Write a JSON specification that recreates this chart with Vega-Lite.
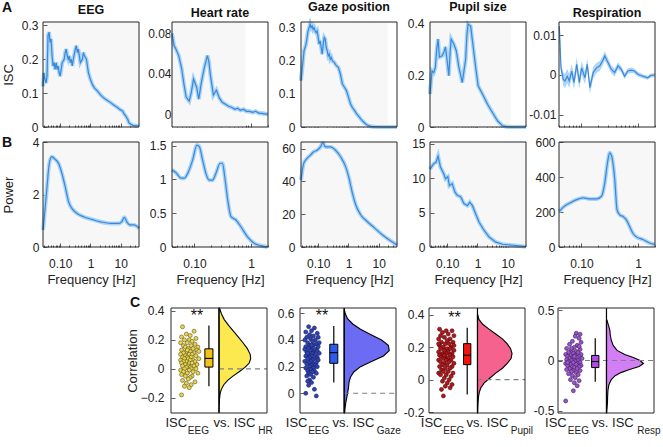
{
"$schema": "https://vega.github.io/schema/vega-lite/v6.json",
"padding": {"left": 2, "top": 1, "right": 2, "bottom": 2},
"background": "white",
"config": {
  "font": "Liberation Sans",
  "view": {"stroke": null},
  "axis": {"domain": false, "grid": false, "labelFont": "Liberation Sans", "labelFontSize": 12, "labelColor": "#222222", "tickColor": "#333333", "tickWidth": 0.8, "titleFont": "Liberation Sans", "titleFontSize": 13, "titleFontWeight": "normal", "titleColor": "#222222", "labelOverlap": false, "labelBound": false, "labelFlush": false},
  "title": {"font": "Liberation Sans", "fontSize": 12.5, "fontWeight": "bold", "color": "#111111", "offset": 2.5, "frame": "group"}
},
"datasets": {
  "eegA": [{"f":0.027,"v":0.12},{"f":0.0292,"v":0.16},{"f":0.0315,"v":0.14},{"f":0.034,"v":0.13},{"f":0.0367,"v":0.15},{"f":0.0396,"v":0.27},{"f":0.0428,"v":0.28},{"f":0.0462,"v":0.25},{"f":0.0499,"v":0.26},{"f":0.0539,"v":0.21},{"f":0.0582,"v":0.18},{"f":0.0628,"v":0.19},{"f":0.0678,"v":0.17},{"f":0.0732,"v":0.19},{"f":0.0791,"v":0.17},{"f":0.0854,"v":0.18},{"f":0.0922,"v":0.16},{"f":0.0996,"v":0.15},{"f":0.1075,"v":0.17},{"f":0.1161,"v":0.19},{"f":0.1354,"v":0.2},{"f":0.1462,"v":0.22},{"f":0.1579,"v":0.23},{"f":0.1705,"v":0.21},{"f":0.1841,"v":0.2},{"f":0.1988,"v":0.21},{"f":0.2147,"v":0.19},{"f":0.2318,"v":0.2},{"f":0.2503,"v":0.18},{"f":0.2703,"v":0.2},{"f":0.3152,"v":0.23},{"f":0.3403,"v":0.24},{"f":0.3675,"v":0.22},{"f":0.3968,"v":0.23},{"f":0.4285,"v":0.21},{"f":0.4627,"v":0.19},{"f":0.5395,"v":0.2},{"f":0.5826,"v":0.22},{"f":0.6291,"v":0.21},{"f":0.7335,"v":0.2},{"f":0.792,"v":0.18},{"f":0.8553,"v":0.16},{"f":0.9973,"v":0.14},{"f":1.163,"v":0.125},{"f":1.356,"v":0.115},{"f":1.707,"v":0.106},{"f":2.149,"v":0.095},{"f":2.706,"v":0.086},{"f":3.407,"v":0.08},{"f":4.632,"v":0.072},{"f":5.832,"v":0.065},{"f":7.929,"v":0.057},{"f":9.245,"v":0.052},{"f":11.64,"v":0.047},{"f":12.57,"v":0.04},{"f":14.66,"v":0.032},{"f":17.09,"v":0.022},{"f":18.45,"v":0.013},{"f":21.52,"v":0.008},{"f":25.09,"v":0.005},{"f":31.59,"v":0.004},{"f":39.77,"v":0.003}],
  "hrA": [{"f":0.04,"v":0.08},{"f":0.0435,"v":0.068},{"f":0.0464,"v":0.065},{"f":0.0526,"v":0.058},{"f":0.0594,"v":0.045},{"f":0.065,"v":0.03},{"f":0.0712,"v":0.017},{"f":0.0805,"v":0.013},{"f":0.088,"v":0.022},{"f":0.0963,"v":0.035},{"f":0.1088,"v":0.027},{"f":0.119,"v":0.015},{"f":0.131,"v":0.03},{"f":0.149,"v":0.046},{"f":0.169,"v":0.058},{"f":0.18,"v":0.052},{"f":0.19,"v":0.04},{"f":0.216,"v":0.019},{"f":0.244,"v":0.024},{"f":0.276,"v":0.016},{"f":0.31,"v":0.012},{"f":0.353,"v":0.01},{"f":0.4,"v":0.008},{"f":0.452,"v":0.007},{"f":0.52,"v":0.005},{"f":0.578,"v":0.006},{"f":0.65,"v":0.004},{"f":0.738,"v":0.005},{"f":0.83,"v":0.003},{"f":0.944,"v":0.003},{"f":1.07,"v":0.002},{"f":1.21,"v":0.003},{"f":1.4,"v":0.001},{"f":1.55,"v":0.001},{"f":1.98,"v":0.0}],
  "gazeA": [{"f":0.027,"v":0.14},{"f":0.0292,"v":0.17},{"f":0.0315,"v":0.2},{"f":0.034,"v":0.23},{"f":0.0367,"v":0.24},{"f":0.0396,"v":0.25},{"f":0.0428,"v":0.27},{"f":0.0462,"v":0.29},{"f":0.0499,"v":0.3},{"f":0.0539,"v":0.31},{"f":0.0582,"v":0.3},{"f":0.0628,"v":0.305},{"f":0.0678,"v":0.295},{"f":0.0732,"v":0.3},{"f":0.0791,"v":0.29},{"f":0.0854,"v":0.285},{"f":0.0922,"v":0.29},{"f":0.0996,"v":0.27},{"f":0.1075,"v":0.25},{"f":0.1161,"v":0.26},{"f":0.1254,"v":0.24},{"f":0.1354,"v":0.22},{"f":0.1462,"v":0.25},{"f":0.1579,"v":0.27},{"f":0.1705,"v":0.265},{"f":0.1841,"v":0.24},{"f":0.1988,"v":0.23},{"f":0.2147,"v":0.215},{"f":0.2318,"v":0.22},{"f":0.2503,"v":0.205},{"f":0.2703,"v":0.21},{"f":0.2919,"v":0.2},{"f":0.3403,"v":0.195},{"f":0.3968,"v":0.185},{"f":0.4627,"v":0.18},{"f":0.5395,"v":0.16},{"f":0.6291,"v":0.13},{"f":0.7335,"v":0.12},{"f":0.8553,"v":0.11},{"f":0.9973,"v":0.09},{"f":1.163,"v":0.07},{"f":1.356,"v":0.058},{"f":1.581,"v":0.05},{"f":1.843,"v":0.04},{"f":2.149,"v":0.033},{"f":2.506,"v":0.025},{"f":2.922,"v":0.018},{"f":3.407,"v":0.012},{"f":3.973,"v":0.007},{"f":4.632,"v":0.004},{"f":5.401,"v":0.002},{"f":7.343,"v":0.001},{"f":13.57,"v":0.0},{"f":39.77,"v":0.0}],
  "pupilA": [{"f":0.027,"v":0.127},{"f":0.0315,"v":0.217},{"f":0.0358,"v":0.21},{"f":0.0405,"v":0.23},{"f":0.045,"v":0.3},{"f":0.0499,"v":0.34},{"f":0.0551,"v":0.27},{"f":0.0678,"v":0.275},{"f":0.078,"v":0.29},{"f":0.0875,"v":0.31},{"f":0.0996,"v":0.256},{"f":0.113,"v":0.198},{"f":0.125,"v":0.29},{"f":0.135,"v":0.34},{"f":0.166,"v":0.32},{"f":0.199,"v":0.295},{"f":0.244,"v":0.23},{"f":0.28,"v":0.2},{"f":0.315,"v":0.172},{"f":0.36,"v":0.22},{"f":0.406,"v":0.262},{"f":0.45,"v":0.36},{"f":0.487,"v":0.398},{"f":0.594,"v":0.39},{"f":0.713,"v":0.314},{"f":0.873,"v":0.23},{"f":1.05,"v":0.159},{"f":1.47,"v":0.127},{"f":2.15,"v":0.088},{"f":3.15,"v":0.055},{"f":4.63,"v":0.023},{"f":6.8,"v":0.004},{"f":10,"v":0.001},{"f":14.7,"v":0.0},{"f":39.8,"v":0.0}],
  "respA": [{"f":0.0405,"v":0.0123,"lo":0.0113,"hi":0.0133},{"f":0.0434,"v":0.0018,"lo":0.0005,"hi":0.0031},{"f":0.0476,"v":-0.0011,"lo":-0.0028,"hi":0.0006},{"f":0.051,"v":-0.0015,"lo":-0.0033,"hi":0.0003},{"f":0.056,"v":-0.0003,"lo":-0.0021,"hi":0.0015},{"f":0.0607,"v":-0.0015,"lo":-0.0033,"hi":0.0003},{"f":0.0672,"v":0.001,"lo":-0.0008,"hi":0.0028},{"f":0.0737,"v":-0.0019,"lo":-0.0037,"hi":-0.0001},{"f":0.0823,"v":0.0027,"lo":0.0009,"hi":0.0045},{"f":0.0915,"v":-0.0019,"lo":-0.0036,"hi":-0.0002},{"f":0.1005,"v":0.0018,"lo":0.0001,"hi":0.0035},{"f":0.1154,"v":-0.0007,"lo":-0.0023,"hi":0.0009},{"f":0.1265,"v":0.0027,"lo":0.0011,"hi":0.0043},{"f":0.1411,"v":-0.0032,"lo":-0.0047,"hi":-0.0017},{"f":0.1612,"v":0.0006,"lo":-0.0008,"hi":0.002},{"f":0.1849,"v":0.0018,"lo":0.0005,"hi":0.0031},{"f":0.2113,"v":0.0023,"lo":0.0011,"hi":0.0035},{"f":0.2357,"v":0.0035,"lo":0.0023,"hi":0.0047},{"f":0.2587,"v":0.0048,"lo":0.0036,"hi":0.006},{"f":0.2958,"v":0.0031,"lo":0.002,"hi":0.0042},{"f":0.3389,"v":0.0014,"lo":0.0004,"hi":0.0024},{"f":0.3874,"v":0.0006,"lo":-0.0004,"hi":0.0016},{"f":0.4427,"v":0.0023,"lo":0.0014,"hi":0.0032},{"f":0.507,"v":0.0014,"lo":0.0006,"hi":0.0022},{"f":0.5797,"v":-0.0003,"lo":-0.0011,"hi":0.0005},{"f":0.662,"v":0.001,"lo":0.0003,"hi":0.0017},{"f":0.7572,"v":0.0012,"lo":0.0005,"hi":0.0019},{"f":0.8659,"v":0.001,"lo":0.0004,"hi":0.0016},{"f":0.9896,"v":0.0002,"lo":-0.0004,"hi":0.0008},{"f":1.213,"v":-0.0003,"lo":-0.0008,"hi":0.0002},{"f":1.484,"v":-0.0007,"lo":-0.0012,"hi":-0.0002},{"f":1.698,"v":-0.0001,"lo":-0.0006,"hi":0.0004},{"f":1.98,"v":0.0,"lo":-0.0005,"hi":0.0005}],
  "eegB": [{"f":0.0272,"v":0.65},{"f":0.0359,"v":2.17},{"f":0.0436,"v":3.19},{"f":0.0527,"v":3.44},{"f":0.0678,"v":3.34},{"f":0.0877,"v":3.19},{"f":0.1132,"v":2.81},{"f":0.146,"v":2.3},{"f":0.188,"v":1.73},{"f":0.243,"v":1.47},{"f":0.36,"v":1.28},{"f":0.594,"v":1.15},{"f":1.13,"v":1.05},{"f":2.15,"v":0.96},{"f":4.63,"v":0.9},{"f":8.87,"v":0.9},{"f":10.7,"v":0.96},{"f":13.1,"v":1.13},{"f":15.8,"v":0.96},{"f":20.4,"v":0.84},{"f":27.7,"v":0.84},{"f":40,"v":0.71}],
  "hrB": [{"f":0.04,"v":1.14},{"f":0.0471,"v":1.1},{"f":0.0579,"v":1.02},{"f":0.0662,"v":1.02},{"f":0.0757,"v":1.09},{"f":0.0929,"v":1.29},{"f":0.1105,"v":1.51},{"f":0.1213,"v":1.49},{"f":0.1392,"v":1.29},{"f":0.159,"v":1.09},{"f":0.182,"v":0.99},{"f":0.2086,"v":0.99},{"f":0.2388,"v":1.09},{"f":0.2842,"v":1.24},{"f":0.3129,"v":1.24},{"f":0.3433,"v":1.04},{"f":0.3869,"v":0.7},{"f":0.4424,"v":0.45},{"f":0.5414,"v":0.4},{"f":0.6626,"v":0.3},{"f":0.8678,"v":0.15},{"f":1.1353,"v":0.055},{"f":1.4869,"v":0.02},{"f":1.96,"v":0.0}],
  "gazeB": [{"f":0.027,"v":40.8},{"f":0.0332,"v":51},{"f":0.0428,"v":54},{"f":0.0551,"v":56},{"f":0.0713,"v":58},{"f":0.0922,"v":59},{"f":0.1187,"v":61},{"f":0.1423,"v":63.6},{"f":0.1738,"v":61},{"f":0.2547,"v":61},{"f":0.3736,"v":59},{"f":0.548,"v":55},{"f":0.804,"v":49},{"f":1.04,"v":42},{"f":1.35,"v":32.7},{"f":1.74,"v":25.6},{"f":2.55,"v":19.5},{"f":4.23,"v":15.4},{"f":7.05,"v":11.8},{"f":13.4,"v":7.3},{"f":22.4,"v":4.3},{"f":40,"v":1.2}],
  "pupilB": [{"f":0.027,"v":11.3},{"f":0.0358,"v":12.1},{"f":0.0428,"v":12.3},{"f":0.0499,"v":13.2},{"f":0.0597,"v":11.6},{"f":0.0774,"v":10.6},{"f":0.0875,"v":9.9},{"f":0.105,"v":10.2},{"f":0.118,"v":8.9},{"f":0.146,"v":9.2},{"f":0.179,"v":8.0},{"f":0.214,"v":7.5},{"f":0.277,"v":7.3},{"f":0.358,"v":6.3},{"f":0.463,"v":6.0},{"f":0.554,"v":6.5},{"f":0.68,"v":6.0},{"f":0.873,"v":4.8},{"f":1.13,"v":3.6},{"f":1.66,"v":2.4},{"f":2.43,"v":1.45},{"f":4.03,"v":0.7},{"f":6.8,"v":0.4},{"f":14.7,"v":0.25},{"f":40,"v":0.05}],
  "respB": [{"f":0.0405,"v":203},{"f":0.0476,"v":228},{"f":0.0625,"v":252},{"f":0.0823,"v":271},{"f":0.1075,"v":281},{"f":0.1411,"v":275},{"f":0.1849,"v":275},{"f":0.2262,"v":290},{"f":0.2587,"v":368},{"f":0.2891,"v":484},{"f":0.3161,"v":538},{"f":0.3457,"v":513},{"f":0.3874,"v":387},{"f":0.4258,"v":213},{"f":0.4753,"v":184},{"f":0.5439,"v":174},{"f":0.6232,"v":155},{"f":0.7132,"v":116},{"f":0.8165,"v":77},{"f":0.935,"v":58},{"f":1.2244,"v":43},{"f":1.6,"v":23},{"f":1.98,"v":15}],
  "sc1": [{"x":1.2,"y":0.29},{"x":2.4,"y":0.26},{"x":1.6,"y":0.24},{"x":2.0,"y":0.23},{"x":1.1,"y":0.22},{"x":2.6,"y":0.21},{"x":1.4,"y":0.2},{"x":1.9,"y":0.2},{"x":2.2,"y":0.19},{"x":1.0,"y":0.18},{"x":1.7,"y":0.18},{"x":2.5,"y":0.17},{"x":1.3,"y":0.16},{"x":2.1,"y":0.16},{"x":2.8,"y":0.15},{"x":1.5,"y":0.15},{"x":1.8,"y":0.14},{"x":2.3,"y":0.14},{"x":1.1,"y":0.13},{"x":2.7,"y":0.13},{"x":1.6,"y":0.12},{"x":2.0,"y":0.12},{"x":1.3,"y":0.11},{"x":2.4,"y":0.11},{"x":1.9,"y":0.1},{"x":1.0,"y":0.1},{"x":2.2,"y":0.1},{"x":1.5,"y":0.09},{"x":2.6,"y":0.09},{"x":1.7,"y":0.08},{"x":2.1,"y":0.08},{"x":1.2,"y":0.08},{"x":2.9,"y":0.07},{"x":1.8,"y":0.07},{"x":1.4,"y":0.07},{"x":2.3,"y":0.06},{"x":1.0,"y":0.06},{"x":2.0,"y":0.06},{"x":1.6,"y":0.05},{"x":2.5,"y":0.05},{"x":1.3,"y":0.05},{"x":1.9,"y":0.04},{"x":2.2,"y":0.04},{"x":1.1,"y":0.04},{"x":2.7,"y":0.03},{"x":1.5,"y":0.03},{"x":1.8,"y":0.02},{"x":2.4,"y":0.02},{"x":1.2,"y":0.02},{"x":2.0,"y":0.01},{"x":1.6,"y":0.01},{"x":2.6,"y":0.0},{"x":1.4,"y":0.0},{"x":2.1,"y":0.0},{"x":1.0,"y":-0.01},{"x":1.9,"y":-0.01},{"x":2.3,"y":-0.02},{"x":1.3,"y":-0.02},{"x":1.7,"y":-0.03},{"x":2.8,"y":-0.03},{"x":1.1,"y":-0.04},{"x":2.2,"y":-0.05},{"x":1.5,"y":-0.05},{"x":2.0,"y":-0.06},{"x":1.8,"y":-0.07},{"x":1.2,"y":-0.08},{"x":2.5,"y":-0.09},{"x":1.6,"y":-0.1},{"x":2.1,"y":-0.11},{"x":1.4,"y":-0.12},{"x":1.9,"y":-0.13},{"x":1.1,"y":-0.18},{"x":2.9,"y":0.12},{"x":1.7,"y":0.13}],
  "sc2": [{"x":0.9,"y":0.5},{"x":1.5,"y":0.49},{"x":1.2,"y":0.47},{"x":0.6,"y":0.46},{"x":1.8,"y":0.45},{"x":1.0,"y":0.44},{"x":1.4,"y":0.43},{"x":0.7,"y":0.42},{"x":1.9,"y":0.42},{"x":1.1,"y":0.41},{"x":1.6,"y":0.4},{"x":0.5,"y":0.4},{"x":1.3,"y":0.39},{"x":2.0,"y":0.38},{"x":0.8,"y":0.38},{"x":1.7,"y":0.37},{"x":1.0,"y":0.36},{"x":1.4,"y":0.36},{"x":0.6,"y":0.35},{"x":1.9,"y":0.35},{"x":1.2,"y":0.34},{"x":0.9,"y":0.34},{"x":1.6,"y":0.33},{"x":0.5,"y":0.33},{"x":1.8,"y":0.32},{"x":1.1,"y":0.32},{"x":1.4,"y":0.31},{"x":0.7,"y":0.31},{"x":2.0,"y":0.3},{"x":1.3,"y":0.3},{"x":0.9,"y":0.29},{"x":1.6,"y":0.29},{"x":0.6,"y":0.28},{"x":1.2,"y":0.28},{"x":1.8,"y":0.27},{"x":1.0,"y":0.27},{"x":1.5,"y":0.26},{"x":0.8,"y":0.26},{"x":1.9,"y":0.25},{"x":1.3,"y":0.25},{"x":0.5,"y":0.24},{"x":1.1,"y":0.24},{"x":1.7,"y":0.23},{"x":0.9,"y":0.23},{"x":1.4,"y":0.22},{"x":0.7,"y":0.22},{"x":1.6,"y":0.21},{"x":1.2,"y":0.21},{"x":1.0,"y":0.2},{"x":1.8,"y":0.2},{"x":0.6,"y":0.19},{"x":1.4,"y":0.19},{"x":1.1,"y":0.18},{"x":0.8,"y":0.17},{"x":1.5,"y":0.17},{"x":1.3,"y":0.16},{"x":0.9,"y":0.15},{"x":1.7,"y":0.15},{"x":1.1,"y":0.14},{"x":0.7,"y":0.13},{"x":1.4,"y":0.12},{"x":1.0,"y":0.1},{"x":0.8,"y":0.09},{"x":1.2,"y":0.08},{"x":0.9,"y":0.06},{"x":1.5,"y":0.03},{"x":0.6,"y":0.0},{"x":1.7,"y":-0.02},{"x":1.2,"y":0.36},{"x":0.8,"y":0.3}],
  "sc3": [{"x":1.1,"y":0.31},{"x":1.8,"y":0.3},{"x":2.4,"y":0.3},{"x":1.4,"y":0.29},{"x":2.0,"y":0.28},{"x":1.2,"y":0.27},{"x":2.6,"y":0.27},{"x":1.6,"y":0.26},{"x":2.2,"y":0.25},{"x":1.0,"y":0.25},{"x":1.9,"y":0.24},{"x":1.3,"y":0.23},{"x":2.5,"y":0.23},{"x":1.7,"y":0.22},{"x":2.1,"y":0.22},{"x":1.1,"y":0.21},{"x":2.3,"y":0.2},{"x":1.5,"y":0.2},{"x":1.9,"y":0.19},{"x":1.2,"y":0.19},{"x":2.6,"y":0.18},{"x":1.6,"y":0.18},{"x":2.0,"y":0.17},{"x":1.0,"y":0.17},{"x":2.4,"y":0.16},{"x":1.4,"y":0.16},{"x":1.8,"y":0.16},{"x":2.2,"y":0.15},{"x":1.1,"y":0.15},{"x":1.7,"y":0.14},{"x":2.5,"y":0.14},{"x":1.3,"y":0.14},{"x":2.0,"y":0.13},{"x":1.5,"y":0.13},{"x":2.3,"y":0.12},{"x":1.0,"y":0.12},{"x":1.8,"y":0.12},{"x":1.2,"y":0.11},{"x":2.1,"y":0.11},{"x":1.6,"y":0.1},{"x":2.6,"y":0.1},{"x":1.4,"y":0.09},{"x":1.9,"y":0.09},{"x":1.1,"y":0.08},{"x":2.4,"y":0.08},{"x":1.7,"y":0.07},{"x":2.2,"y":0.07},{"x":1.3,"y":0.06},{"x":2.0,"y":0.05},{"x":1.5,"y":0.05},{"x":1.0,"y":0.04},{"x":2.5,"y":0.04},{"x":1.8,"y":0.03},{"x":1.2,"y":0.03},{"x":2.3,"y":0.02},{"x":1.6,"y":0.01},{"x":2.1,"y":0.0},{"x":1.4,"y":-0.01},{"x":1.9,"y":-0.02},{"x":2.4,"y":-0.03},{"x":1.7,"y":-0.04},{"x":2.2,"y":-0.05},{"x":1.3,"y":-0.06},{"x":1.5,"y":-0.1},{"x":2.6,"y":0.21},{"x":1.0,"y":0.22},{"x":2.2,"y":0.19},{"x":1.6,"y":0.15}],
  "sc4": [{"x":1.9,"y":0.27},{"x":2.3,"y":0.26},{"x":1.8,"y":0.24},{"x":2.2,"y":0.22},{"x":1.5,"y":0.19},{"x":2.4,"y":0.18},{"x":1.2,"y":0.16},{"x":2.0,"y":0.15},{"x":1.7,"y":0.13},{"x":0.9,"y":0.12},{"x":2.3,"y":0.11},{"x":1.4,"y":0.1},{"x":1.9,"y":0.09},{"x":1.1,"y":0.08},{"x":2.1,"y":0.08},{"x":1.6,"y":0.07},{"x":0.8,"y":0.06},{"x":2.4,"y":0.06},{"x":1.3,"y":0.05},{"x":1.8,"y":0.05},{"x":2.2,"y":0.04},{"x":1.0,"y":0.04},{"x":1.5,"y":0.03},{"x":2.0,"y":0.03},{"x":1.2,"y":0.02},{"x":2.5,"y":0.02},{"x":1.7,"y":0.01},{"x":0.9,"y":0.01},{"x":2.1,"y":0.0},{"x":1.4,"y":0.0},{"x":1.8,"y":-0.01},{"x":1.1,"y":-0.01},{"x":2.3,"y":-0.02},{"x":1.6,"y":-0.02},{"x":0.8,"y":-0.03},{"x":2.0,"y":-0.03},{"x":1.3,"y":-0.04},{"x":1.9,"y":-0.04},{"x":2.4,"y":-0.05},{"x":1.0,"y":-0.05},{"x":1.5,"y":-0.06},{"x":2.2,"y":-0.06},{"x":1.7,"y":-0.07},{"x":1.2,"y":-0.08},{"x":2.0,"y":-0.08},{"x":0.9,"y":-0.09},{"x":1.6,"y":-0.1},{"x":2.3,"y":-0.1},{"x":1.4,"y":-0.11},{"x":1.9,"y":-0.12},{"x":1.1,"y":-0.13},{"x":2.1,"y":-0.14},{"x":1.5,"y":-0.15},{"x":1.8,"y":-0.17},{"x":1.3,"y":-0.19},{"x":2.2,"y":-0.2},{"x":1.7,"y":-0.22},{"x":2.0,"y":-0.25},{"x":1.6,"y":-0.3},{"x":0.8,"y":-0.4},{"x":1.4,"y":0.12},{"x":2.2,"y":0.14},{"x":1.0,"y":-0.02},{"x":1.7,"y":0.04}],
  "vio1": [{"y":0.42,"vx":5.05},{"y":0.38,"vx":5.25},{"y":0.34,"vx":5.55},{"y":0.3,"vx":6.0},{"y":0.26,"vx":6.5},{"y":0.22,"vx":7.0},{"y":0.18,"vx":7.5},{"y":0.14,"vx":7.95},{"y":0.1,"vx":8.25},{"y":0.07,"vx":8.3},{"y":0.04,"vx":8.15},{"y":0.01,"vx":7.7},{"y":-0.02,"vx":7.1},{"y":-0.05,"vx":6.45},{"y":-0.08,"vx":5.9},{"y":-0.11,"vx":5.5},{"y":-0.14,"vx":5.25},{"y":-0.17,"vx":5.12},{"y":-0.21,"vx":5.05},{"y":-0.25,"vx":5.02},{"y":-0.305,"vx":5.0}],
  "vio2": [{"y":0.64,"vx":4.6},{"y":0.6,"vx":4.7},{"y":0.56,"vx":4.95},{"y":0.52,"vx":5.5},{"y":0.48,"vx":6.3},{"y":0.44,"vx":7.4},{"y":0.4,"vx":8.5},{"y":0.36,"vx":9.2},{"y":0.32,"vx":9.3},{"y":0.28,"vx":8.7},{"y":0.24,"vx":7.5},{"y":0.2,"vx":6.3},{"y":0.16,"vx":5.6},{"y":0.12,"vx":5.25},{"y":0.08,"vx":5.1},{"y":0.04,"vx":5.05},{"y":0.0,"vx":4.95},{"y":-0.04,"vx":4.85},{"y":-0.08,"vx":4.75},{"y":-0.12,"vx":4.68},{"y":-0.148,"vx":4.65}],
  "vio3": [{"y":0.4,"vx":5.07},{"y":0.37,"vx":5.2},{"y":0.34,"vx":5.6},{"y":0.31,"vx":6.25},{"y":0.28,"vx":6.95},{"y":0.25,"vx":7.65},{"y":0.22,"vx":8.15},{"y":0.19,"vx":8.5},{"y":0.16,"vx":8.65},{"y":0.13,"vx":8.55},{"y":0.1,"vx":8.15},{"y":0.07,"vx":7.65},{"y":0.04,"vx":6.95},{"y":0.01,"vx":6.35},{"y":-0.02,"vx":5.75},{"y":-0.05,"vx":5.4},{"y":-0.08,"vx":5.23},{"y":-0.11,"vx":5.15},{"y":-0.14,"vx":5.11},{"y":-0.17,"vx":5.09},{"y":-0.205,"vx":5.07}],
  "vio4": [{"y":0.4,"vx":5.1},{"y":0.35,"vx":5.25},{"y":0.3,"vx":5.4},{"y":0.25,"vx":5.45},{"y":0.2,"vx":5.55},{"y":0.15,"vx":5.75},{"y":0.1,"vx":6.15},{"y":0.06,"vx":6.95},{"y":0.03,"vx":7.85},{"y":0.0,"vx":8.55},{"y":-0.03,"vx":8.9},{"y":-0.06,"vx":8.45},{"y":-0.09,"vx":7.45},{"y":-0.12,"vx":6.55},{"y":-0.15,"vx":5.95},{"y":-0.19,"vx":5.55},{"y":-0.24,"vx":5.3},{"y":-0.3,"vx":5.2},{"y":-0.36,"vx":5.17},{"y":-0.42,"vx":5.15},{"y":-0.48,"vx":5.1},{"y":-0.52,"vx":5.07}],
  "box1": [{"q1":0.012,"med":0.072,"q3":0.138,"lo":-0.12,"hi":0.3}],
  "box2": [{"q1":0.225,"med":0.305,"q3":0.368,"lo":0.08,"hi":0.505}],
  "box3": [{"q1":0.092,"med":0.15,"q3":0.221,"lo":-0.092,"hi":0.318}],
  "box4": [{"q1":-0.07,"med":-0.01,"q3":0.05,"lo":-0.21,"hi":0.22}]
},
"spacing": 10,
"vconcat": [
 {"spacing": -1, "vconcat": [
  {"title": {"text": "A", "anchor": "start", "frame": "bounds", "fontSize": 14, "offset": -14}, "spacing": 33, "bounds": "flush",
   "hconcat": [
    {"width": 96, "height": 105, "title": "EEG", "view": {"fill": "#f7f7f7"},
     "layer": [
      {"data": {"name": "eegA"}, "mark": {"type": "line", "color": "#a9d4f5", "strokeWidth": 4},
       "encoding": {
        "x": {"field": "f", "type": "quantitative", "scale": {"type": "log", "domain": [0.027, 40], "nice": false}, "axis": {"values": [0.03,0.04,0.05,0.06,0.07,0.08,0.09,0.1,0.2,0.3,0.4,0.5,0.6,0.7,0.8,0.9,1,2,3,4,5,6,7,8,9,10,20,30], "tickCount": 100, "labels": false, "title": null, "tickSize": {"condition": {"test": "datum.value==0.1||datum.value==1||datum.value==10", "value": -4}, "value": -2}}},
        "y": {"field": "v", "type": "quantitative", "scale": {"domain": [0, 0.31], "nice": false, "zero": false}, "axis": {"values": [0,0.1,0.2,0.3], "tickCount": 100, "labelExpr": "format(datum.value,'~g')", "tickSize": -4, "labelPadding": 9, "minExtent": 28, "maxExtent": 28, "title": "ISC", "titlePadding": 0, "labelOverlap": false}}}},
      {"data": {"name": "eegA"}, "mark": {"type": "line", "color": "#3b87d8", "strokeWidth": 1.2},
       "encoding": {"x": {"field": "f", "type": "quantitative"}, "y": {"field": "v", "type": "quantitative"}}},
      {"data": {"values": [{}]}, "mark": {"type": "rule", "color": "#262626", "strokeWidth": 1}, "encoding": {"x": {"datum": 0.027, "type": "quantitative"}, "y": {"datum": 0, "type": "quantitative"}, "y2": {"datum": 0.31}}},
      {"data": {"values": [{}]}, "mark": {"type": "rule", "color": "#262626", "strokeWidth": 1}, "encoding": {"x": {"datum": 40, "type": "quantitative"}, "y": {"datum": 0, "type": "quantitative"}, "y2": {"datum": 0.31}}},
      {"data": {"values": [{}]}, "mark": {"type": "rule", "color": "#262626", "strokeWidth": 1}, "encoding": {"x": {"datum": 0.027, "type": "quantitative"}, "x2": {"datum": 40}, "y": {"datum": 0, "type": "quantitative"}}},
      {"data": {"values": [{}]}, "mark": {"type": "rule", "color": "#262626", "strokeWidth": 1}, "encoding": {"x": {"datum": 0.027, "type": "quantitative"}, "x2": {"datum": 40}, "y": {"datum": 0.31, "type": "quantitative"}}}
     ]},
    {"width": 96, "height": 105, "title": "Heart rate",
     "layer": [
      {"data": {"name": "hrA"}, "mark": {"type": "line", "color": "#a9d4f5", "strokeWidth": 4},
       "encoding": {
        "x": {"field": "f", "type": "quantitative", "scale": {"type": "log", "domain": [0.04, 2], "nice": false}, "axis": {"values": [0.04,0.05,0.06,0.07,0.08,0.09,0.1,0.2,0.3,0.4,0.5,0.6,0.7,0.8,0.9,1,2], "tickCount": 100, "labels": false, "title": null, "tickSize": {"condition": {"test": "datum.value==0.1||datum.value==1||datum.value==10", "value": -4}, "value": -2}}},
        "y": {"field": "v", "type": "quantitative", "scale": {"domain": [-0.0125, 0.0912], "nice": false, "zero": false}, "axis": {"values": [0,0.04,0.08], "tickCount": 100, "labelExpr": "format(datum.value,'~g')", "tickSize": -4, "labelPadding": 5, "title": null, "labelOverlap": false}}}},
      {"data": {"values": [{}]}, "mark": {"type": "rect", "color": "#f7f7f7"},
       "encoding": {"x": {"datum": 0.04, "type": "quantitative"}, "x2": {"datum": 0.8}, "y": {"datum": -0.0125, "type": "quantitative"}, "y2": {"datum": 0.0912}}},
      {"data": {"name": "hrA"}, "mark": {"type": "line", "color": "#a9d4f5", "strokeWidth": 4},
       "encoding": {"x": {"field": "f", "type": "quantitative"}, "y": {"field": "v", "type": "quantitative"}}},
      {"data": {"name": "hrA"}, "mark": {"type": "line", "color": "#3b87d8", "strokeWidth": 1.2},
       "encoding": {"x": {"field": "f", "type": "quantitative"}, "y": {"field": "v", "type": "quantitative"}}},
      {"data": {"values": [{}]}, "mark": {"type": "rule", "color": "#262626", "strokeWidth": 1}, "encoding": {"x": {"datum": 0.04, "type": "quantitative"}, "y": {"datum": -0.0125, "type": "quantitative"}, "y2": {"datum": 0.0912}}},
      {"data": {"values": [{}]}, "mark": {"type": "rule", "color": "#262626", "strokeWidth": 1}, "encoding": {"x": {"datum": 2, "type": "quantitative"}, "y": {"datum": -0.0125, "type": "quantitative"}, "y2": {"datum": 0.0912}}},
      {"data": {"values": [{}]}, "mark": {"type": "rule", "color": "#262626", "strokeWidth": 1}, "encoding": {"x": {"datum": 0.04, "type": "quantitative"}, "x2": {"datum": 2}, "y": {"datum": -0.0125, "type": "quantitative"}}},
      {"data": {"values": [{}]}, "mark": {"type": "rule", "color": "#262626", "strokeWidth": 1}, "encoding": {"x": {"datum": 0.04, "type": "quantitative"}, "x2": {"datum": 2}, "y": {"datum": 0.0912, "type": "quantitative"}}}
     ]},
    {"width": 96, "height": 105, "title": "Gaze position",
     "layer": [
      {"data": {"name": "gazeA"}, "mark": {"type": "line", "color": "#a9d4f5", "strokeWidth": 4},
       "encoding": {
        "x": {"field": "f", "type": "quantitative", "scale": {"type": "log", "domain": [0.027, 40], "nice": false}, "axis": {"values": [0.03,0.04,0.05,0.06,0.07,0.08,0.09,0.1,0.2,0.3,0.4,0.5,0.6,0.7,0.8,0.9,1,2,3,4,5,6,7,8,9,10,20,30], "tickCount": 100, "labels": false, "title": null, "tickSize": {"condition": {"test": "datum.value==0.1||datum.value==1||datum.value==10", "value": -4}, "value": -2}}},
        "y": {"field": "v", "type": "quantitative", "scale": {"domain": [0, 0.317], "nice": false, "zero": false}, "axis": {"values": [0,0.1,0.2,0.3], "tickCount": 100, "labelExpr": "format(datum.value,'~g')", "tickSize": -4, "labelPadding": 10, "title": null, "labelOverlap": false}}}},
      {"data": {"values": [{}]}, "mark": {"type": "rect", "color": "#f7f7f7"},
       "encoding": {"x": {"datum": 0.027, "type": "quantitative"}, "x2": {"datum": 19.8}, "y": {"datum": 0, "type": "quantitative"}, "y2": {"datum": 0.317}}},
      {"data": {"name": "gazeA"}, "mark": {"type": "line", "color": "#a9d4f5", "strokeWidth": 4},
       "encoding": {"x": {"field": "f", "type": "quantitative"}, "y": {"field": "v", "type": "quantitative"}}},
      {"data": {"name": "gazeA"}, "mark": {"type": "line", "color": "#3b87d8", "strokeWidth": 1.2},
       "encoding": {"x": {"field": "f", "type": "quantitative"}, "y": {"field": "v", "type": "quantitative"}}},
      {"data": {"values": [{}]}, "mark": {"type": "rule", "color": "#262626", "strokeWidth": 1}, "encoding": {"x": {"datum": 0.027, "type": "quantitative"}, "y": {"datum": 0, "type": "quantitative"}, "y2": {"datum": 0.317}}},
      {"data": {"values": [{}]}, "mark": {"type": "rule", "color": "#262626", "strokeWidth": 1}, "encoding": {"x": {"datum": 40, "type": "quantitative"}, "y": {"datum": 0, "type": "quantitative"}, "y2": {"datum": 0.317}}},
      {"data": {"values": [{}]}, "mark": {"type": "rule", "color": "#262626", "strokeWidth": 1}, "encoding": {"x": {"datum": 0.027, "type": "quantitative"}, "x2": {"datum": 40}, "y": {"datum": 0, "type": "quantitative"}}},
      {"data": {"values": [{}]}, "mark": {"type": "rule", "color": "#262626", "strokeWidth": 1}, "encoding": {"x": {"datum": 0.027, "type": "quantitative"}, "x2": {"datum": 40}, "y": {"datum": 0.317, "type": "quantitative"}}}
     ]},
    {"width": 96, "height": 105, "title": "Pupil size",
     "layer": [
      {"data": {"name": "pupilA"}, "mark": {"type": "line", "color": "#a9d4f5", "strokeWidth": 4},
       "encoding": {
        "x": {"field": "f", "type": "quantitative", "scale": {"type": "log", "domain": [0.027, 40], "nice": false}, "axis": {"values": [0.03,0.04,0.05,0.06,0.07,0.08,0.09,0.1,0.2,0.3,0.4,0.5,0.6,0.7,0.8,0.9,1,2,3,4,5,6,7,8,9,10,20,30], "tickCount": 100, "labels": false, "title": null, "tickSize": {"condition": {"test": "datum.value==0.1||datum.value==1||datum.value==10", "value": -4}, "value": -2}}},
        "y": {"field": "v", "type": "quantitative", "scale": {"domain": [0, 0.406], "nice": false, "zero": false}, "axis": {"values": [0,0.2,0.4], "tickCount": 100, "labelExpr": "format(datum.value,'~g')", "tickSize": -4, "labelPadding": 10, "title": null, "labelOverlap": false}}}},
      {"data": {"values": [{}]}, "mark": {"type": "rect", "color": "#f7f7f7"},
       "encoding": {"x": {"datum": 0.027, "type": "quantitative"}, "x2": {"datum": 12.5}, "y": {"datum": 0, "type": "quantitative"}, "y2": {"datum": 0.406}}},
      {"data": {"name": "pupilA"}, "mark": {"type": "line", "color": "#a9d4f5", "strokeWidth": 4},
       "encoding": {"x": {"field": "f", "type": "quantitative"}, "y": {"field": "v", "type": "quantitative"}}},
      {"data": {"name": "pupilA"}, "mark": {"type": "line", "color": "#3b87d8", "strokeWidth": 1.2},
       "encoding": {"x": {"field": "f", "type": "quantitative"}, "y": {"field": "v", "type": "quantitative"}}},
      {"data": {"values": [{}]}, "mark": {"type": "rule", "color": "#262626", "strokeWidth": 1}, "encoding": {"x": {"datum": 0.027, "type": "quantitative"}, "y": {"datum": 0, "type": "quantitative"}, "y2": {"datum": 0.406}}},
      {"data": {"values": [{}]}, "mark": {"type": "rule", "color": "#262626", "strokeWidth": 1}, "encoding": {"x": {"datum": 40, "type": "quantitative"}, "y": {"datum": 0, "type": "quantitative"}, "y2": {"datum": 0.406}}},
      {"data": {"values": [{}]}, "mark": {"type": "rule", "color": "#262626", "strokeWidth": 1}, "encoding": {"x": {"datum": 0.027, "type": "quantitative"}, "x2": {"datum": 40}, "y": {"datum": 0, "type": "quantitative"}}},
      {"data": {"values": [{}]}, "mark": {"type": "rule", "color": "#262626", "strokeWidth": 1}, "encoding": {"x": {"datum": 0.027, "type": "quantitative"}, "x2": {"datum": 40}, "y": {"datum": 0.406, "type": "quantitative"}}}
     ]},
    {"width": 96, "height": 105, "title": "Respiration",
     "layer": [
      {"data": {"name": "respA"}, "mark": {"type": "area", "color": "#a9d4f5", "opacity": 0.95},
       "encoding": {
        "x": {"field": "f", "type": "quantitative", "scale": {"type": "log", "domain": [0.04, 2], "nice": false}, "axis": {"values": [0.04,0.05,0.06,0.07,0.08,0.09,0.1,0.2,0.3,0.4,0.5,0.6,0.7,0.8,0.9,1,2], "tickCount": 100, "labels": false, "title": null, "tickSize": {"condition": {"test": "datum.value==0.1||datum.value==1||datum.value==10", "value": -4}, "value": -2}}},
        "y": {"field": "lo", "type": "quantitative", "scale": {"domain": [-0.0131, 0.01335], "nice": false, "zero": false}, "axis": {"values": [-0.01,0,0.01], "tickCount": 100, "labelExpr": "replace(format(datum.value,'~g'),'−','-')", "tickSize": -4, "labelPadding": 7, "title": null, "labelOverlap": false}},
        "y2": {"field": "hi"}}},
      {"data": {"name": "respA"}, "mark": {"type": "line", "color": "#3b87d8", "strokeWidth": 1.2},
       "encoding": {"x": {"field": "f", "type": "quantitative"}, "y": {"field": "v", "type": "quantitative"}}},
      {"data": {"values": [{}]}, "mark": {"type": "rule", "color": "#262626", "strokeWidth": 1}, "encoding": {"x": {"datum": 0.04, "type": "quantitative"}, "y": {"datum": -0.0131, "type": "quantitative"}, "y2": {"datum": 0.01335}}},
      {"data": {"values": [{}]}, "mark": {"type": "rule", "color": "#262626", "strokeWidth": 1}, "encoding": {"x": {"datum": 2, "type": "quantitative"}, "y": {"datum": -0.0131, "type": "quantitative"}, "y2": {"datum": 0.01335}}},
      {"data": {"values": [{}]}, "mark": {"type": "rule", "color": "#262626", "strokeWidth": 1}, "encoding": {"x": {"datum": 0.04, "type": "quantitative"}, "x2": {"datum": 2}, "y": {"datum": -0.0131, "type": "quantitative"}}},
      {"data": {"values": [{}]}, "mark": {"type": "rule", "color": "#262626", "strokeWidth": 1}, "encoding": {"x": {"datum": 0.04, "type": "quantitative"}, "x2": {"datum": 2}, "y": {"datum": 0.01335, "type": "quantitative"}}}
     ]}
   ]},
  {"title": {"text": "B", "anchor": "start", "frame": "bounds", "fontSize": 14, "offset": -15}, "spacing": 33, "bounds": "flush",
   "hconcat": [
    {"width": 96, "height": 105, "view": {"fill": "#f7f7f7"},
     "layer": [
      {"data": {"name": "eegB"}, "mark": {"type": "line", "color": "#a9d4f5", "strokeWidth": 4, "interpolate": "monotone"},
       "encoding": {
        "x": {"field": "f", "type": "quantitative", "scale": {"type": "log", "domain": [0.027, 40], "nice": false}, "axis": {"values": [0.03,0.04,0.05,0.06,0.07,0.08,0.09,0.1,0.2,0.3,0.4,0.5,0.6,0.7,0.8,0.9,1,2,3,4,5,6,7,8,9,10,20,30], "tickCount": 100, "labelExpr": "datum.value==0.1?'0.10':datum.value==1?'1':datum.value==10?'10':''", "labelPadding": 15, "title": "Frequency [Hz]", "titlePadding": 2, "tickSize": {"condition": {"test": "datum.value==0.1||datum.value==1||datum.value==10", "value": -4}, "value": -2}}},
        "y": {"field": "v", "type": "quantitative", "scale": {"domain": [0, 4], "nice": false, "zero": false}, "axis": {"values": [0,2,4], "tickCount": 100, "labelExpr": "format(datum.value,'~g')", "tickSize": -4, "labelPadding": 8, "minExtent": 28, "maxExtent": 28, "title": "Power", "titlePadding": 0, "labelOverlap": false}}}},
      {"data": {"name": "eegB"}, "mark": {"type": "line", "color": "#3b87d8", "strokeWidth": 1.2, "interpolate": "monotone"},
       "encoding": {"x": {"field": "f", "type": "quantitative"}, "y": {"field": "v", "type": "quantitative"}}},
      {"data": {"values": [{}]}, "mark": {"type": "rule", "color": "#262626", "strokeWidth": 1}, "encoding": {"x": {"datum": 0.027, "type": "quantitative"}, "y": {"datum": 0, "type": "quantitative"}, "y2": {"datum": 4}}},
      {"data": {"values": [{}]}, "mark": {"type": "rule", "color": "#262626", "strokeWidth": 1}, "encoding": {"x": {"datum": 40, "type": "quantitative"}, "y": {"datum": 0, "type": "quantitative"}, "y2": {"datum": 4}}},
      {"data": {"values": [{}]}, "mark": {"type": "rule", "color": "#262626", "strokeWidth": 1}, "encoding": {"x": {"datum": 0.027, "type": "quantitative"}, "x2": {"datum": 40}, "y": {"datum": 0, "type": "quantitative"}}},
      {"data": {"values": [{}]}, "mark": {"type": "rule", "color": "#262626", "strokeWidth": 1}, "encoding": {"x": {"datum": 0.027, "type": "quantitative"}, "x2": {"datum": 40}, "y": {"datum": 4, "type": "quantitative"}}}
     ]},
    {"width": 96, "height": 105, "view": {"fill": "#f7f7f7"},
     "layer": [
      {"data": {"name": "hrB"}, "mark": {"type": "line", "color": "#a9d4f5", "strokeWidth": 4, "interpolate": "monotone"},
       "encoding": {
        "x": {"field": "f", "type": "quantitative", "scale": {"type": "log", "domain": [0.04, 2], "nice": false}, "axis": {"values": [0.04,0.05,0.06,0.07,0.08,0.09,0.1,0.2,0.3,0.4,0.5,0.6,0.7,0.8,0.9,1,2], "tickCount": 100, "labelExpr": "datum.value==0.1?'0.10':datum.value==1?'1':''", "labelPadding": 15, "title": "Frequency [Hz]", "titlePadding": 2, "tickSize": {"condition": {"test": "datum.value==0.1||datum.value==1||datum.value==10", "value": -4}, "value": -2}}},
        "y": {"field": "v", "type": "quantitative", "scale": {"domain": [0, 1.555], "nice": false, "zero": false}, "axis": {"values": [0,0.5,1,1.5], "tickCount": 100, "labelExpr": "format(datum.value,'~g')", "tickSize": -4, "labelPadding": 10, "title": null, "labelOverlap": false}}}},
      {"data": {"name": "hrB"}, "mark": {"type": "line", "color": "#3b87d8", "strokeWidth": 1.2, "interpolate": "monotone"},
       "encoding": {"x": {"field": "f", "type": "quantitative"}, "y": {"field": "v", "type": "quantitative"}}},
      {"data": {"values": [{}]}, "mark": {"type": "rule", "color": "#262626", "strokeWidth": 1}, "encoding": {"x": {"datum": 0.04, "type": "quantitative"}, "y": {"datum": 0, "type": "quantitative"}, "y2": {"datum": 1.555}}},
      {"data": {"values": [{}]}, "mark": {"type": "rule", "color": "#262626", "strokeWidth": 1}, "encoding": {"x": {"datum": 2, "type": "quantitative"}, "y": {"datum": 0, "type": "quantitative"}, "y2": {"datum": 1.555}}},
      {"data": {"values": [{}]}, "mark": {"type": "rule", "color": "#262626", "strokeWidth": 1}, "encoding": {"x": {"datum": 0.04, "type": "quantitative"}, "x2": {"datum": 2}, "y": {"datum": 0, "type": "quantitative"}}},
      {"data": {"values": [{}]}, "mark": {"type": "rule", "color": "#262626", "strokeWidth": 1}, "encoding": {"x": {"datum": 0.04, "type": "quantitative"}, "x2": {"datum": 2}, "y": {"datum": 1.555, "type": "quantitative"}}}
     ]},
    {"width": 96, "height": 105, "view": {"fill": "#f7f7f7"},
     "layer": [
      {"data": {"name": "gazeB"}, "mark": {"type": "line", "color": "#a9d4f5", "strokeWidth": 4, "interpolate": "monotone"},
       "encoding": {
        "x": {"field": "f", "type": "quantitative", "scale": {"type": "log", "domain": [0.027, 40], "nice": false}, "axis": {"values": [0.03,0.04,0.05,0.06,0.07,0.08,0.09,0.1,0.2,0.3,0.4,0.5,0.6,0.7,0.8,0.9,1,2,3,4,5,6,7,8,9,10,20,30], "tickCount": 100, "labelExpr": "datum.value==0.1?'0.10':datum.value==1?'1':datum.value==10?'10':''", "labelPadding": 15, "title": "Frequency [Hz]", "titlePadding": 2, "tickSize": {"condition": {"test": "datum.value==0.1||datum.value==1||datum.value==10", "value": -4}, "value": -2}}},
        "y": {"field": "v", "type": "quantitative", "scale": {"domain": [0, 64], "nice": false, "zero": false}, "axis": {"values": [0,20,40,60], "tickCount": 100, "labelExpr": "format(datum.value,'~g')", "tickSize": -4, "labelPadding": 10, "title": null, "labelOverlap": false}}}},
      {"data": {"name": "gazeB"}, "mark": {"type": "line", "color": "#3b87d8", "strokeWidth": 1.2, "interpolate": "monotone"},
       "encoding": {"x": {"field": "f", "type": "quantitative"}, "y": {"field": "v", "type": "quantitative"}}},
      {"data": {"values": [{}]}, "mark": {"type": "rule", "color": "#262626", "strokeWidth": 1}, "encoding": {"x": {"datum": 0.027, "type": "quantitative"}, "y": {"datum": 0, "type": "quantitative"}, "y2": {"datum": 64}}},
      {"data": {"values": [{}]}, "mark": {"type": "rule", "color": "#262626", "strokeWidth": 1}, "encoding": {"x": {"datum": 40, "type": "quantitative"}, "y": {"datum": 0, "type": "quantitative"}, "y2": {"datum": 64}}},
      {"data": {"values": [{}]}, "mark": {"type": "rule", "color": "#262626", "strokeWidth": 1}, "encoding": {"x": {"datum": 0.027, "type": "quantitative"}, "x2": {"datum": 40}, "y": {"datum": 0, "type": "quantitative"}}},
      {"data": {"values": [{}]}, "mark": {"type": "rule", "color": "#262626", "strokeWidth": 1}, "encoding": {"x": {"datum": 0.027, "type": "quantitative"}, "x2": {"datum": 40}, "y": {"datum": 64, "type": "quantitative"}}}
     ]},
    {"width": 96, "height": 105, "view": {"fill": "#f7f7f7"},
     "layer": [
      {"data": {"name": "pupilB"}, "mark": {"type": "line", "color": "#a9d4f5", "strokeWidth": 4},
       "encoding": {
        "x": {"field": "f", "type": "quantitative", "scale": {"type": "log", "domain": [0.027, 40], "nice": false}, "axis": {"values": [0.03,0.04,0.05,0.06,0.07,0.08,0.09,0.1,0.2,0.3,0.4,0.5,0.6,0.7,0.8,0.9,1,2,3,4,5,6,7,8,9,10,20,30], "tickCount": 100, "labelExpr": "datum.value==0.1?'0.10':datum.value==1?'1':datum.value==10?'10':''", "labelPadding": 15, "title": "Frequency [Hz]", "titlePadding": 2, "tickSize": {"condition": {"test": "datum.value==0.1||datum.value==1||datum.value==10", "value": -4}, "value": -2}}},
        "y": {"field": "v", "type": "quantitative", "scale": {"domain": [0, 15.24], "nice": false, "zero": false}, "axis": {"values": [0,5,10,15], "tickCount": 100, "labelExpr": "format(datum.value,'~g')", "tickSize": -4, "labelPadding": 9, "title": null, "labelOverlap": false}}}},
      {"data": {"name": "pupilB"}, "mark": {"type": "line", "color": "#3b87d8", "strokeWidth": 1.2},
       "encoding": {"x": {"field": "f", "type": "quantitative"}, "y": {"field": "v", "type": "quantitative"}}},
      {"data": {"values": [{}]}, "mark": {"type": "rule", "color": "#262626", "strokeWidth": 1}, "encoding": {"x": {"datum": 0.027, "type": "quantitative"}, "y": {"datum": 0, "type": "quantitative"}, "y2": {"datum": 15.24}}},
      {"data": {"values": [{}]}, "mark": {"type": "rule", "color": "#262626", "strokeWidth": 1}, "encoding": {"x": {"datum": 40, "type": "quantitative"}, "y": {"datum": 0, "type": "quantitative"}, "y2": {"datum": 15.24}}},
      {"data": {"values": [{}]}, "mark": {"type": "rule", "color": "#262626", "strokeWidth": 1}, "encoding": {"x": {"datum": 0.027, "type": "quantitative"}, "x2": {"datum": 40}, "y": {"datum": 0, "type": "quantitative"}}},
      {"data": {"values": [{}]}, "mark": {"type": "rule", "color": "#262626", "strokeWidth": 1}, "encoding": {"x": {"datum": 0.027, "type": "quantitative"}, "x2": {"datum": 40}, "y": {"datum": 15.24, "type": "quantitative"}}}
     ]},
    {"width": 96, "height": 105, "view": {"fill": "#f7f7f7"},
     "layer": [
      {"data": {"name": "respB"}, "mark": {"type": "line", "color": "#a9d4f5", "strokeWidth": 4, "interpolate": "monotone"},
       "encoding": {
        "x": {"field": "f", "type": "quantitative", "scale": {"type": "log", "domain": [0.04, 2], "nice": false}, "axis": {"values": [0.04,0.05,0.06,0.07,0.08,0.09,0.1,0.2,0.3,0.4,0.5,0.6,0.7,0.8,0.9,1,2], "tickCount": 100, "labelExpr": "datum.value==0.1?'0.10':datum.value==1?'1':''", "labelPadding": 15, "title": "Frequency [Hz]", "titlePadding": 2, "tickSize": {"condition": {"test": "datum.value==0.1||datum.value==1||datum.value==10", "value": -4}, "value": -2}}},
        "y": {"field": "v", "type": "quantitative", "scale": {"domain": [0, 600], "nice": false, "zero": false}, "axis": {"values": [0,200,400,600], "tickCount": 100, "labelExpr": "format(datum.value,'~g')", "tickSize": -4, "labelPadding": 8, "title": null, "labelOverlap": false}}}},
      {"data": {"name": "respB"}, "mark": {"type": "line", "color": "#3b87d8", "strokeWidth": 1.2, "interpolate": "monotone"},
       "encoding": {"x": {"field": "f", "type": "quantitative"}, "y": {"field": "v", "type": "quantitative"}}},
      {"data": {"values": [{}]}, "mark": {"type": "rule", "color": "#262626", "strokeWidth": 1}, "encoding": {"x": {"datum": 0.04, "type": "quantitative"}, "y": {"datum": 0, "type": "quantitative"}, "y2": {"datum": 600}}},
      {"data": {"values": [{}]}, "mark": {"type": "rule", "color": "#262626", "strokeWidth": 1}, "encoding": {"x": {"datum": 2, "type": "quantitative"}, "y": {"datum": 0, "type": "quantitative"}, "y2": {"datum": 600}}},
      {"data": {"values": [{}]}, "mark": {"type": "rule", "color": "#262626", "strokeWidth": 1}, "encoding": {"x": {"datum": 0.04, "type": "quantitative"}, "x2": {"datum": 2}, "y": {"datum": 0, "type": "quantitative"}}},
      {"data": {"values": [{}]}, "mark": {"type": "rule", "color": "#262626", "strokeWidth": 1}, "encoding": {"x": {"datum": 0.04, "type": "quantitative"}, "x2": {"datum": 2}, "y": {"datum": 600, "type": "quantitative"}}}
     ]}
   ]}
 ]},
 {"title": {"text": "C", "anchor": "start", "frame": "bounds", "fontSize": 14, "offset": -6, "dx": 87}, "spacing": 33, "bounds": "flush",
  "hconcat": [
   {"width": 95, "height": 105, "data": {"values": [{}]}, "mark": {"type": "point", "opacity": 0}},
   {"width": 96, "height": 105,
    "layer": [
     {"data": {"name": "vio1"}, "mark": {"type": "area", "orient": "horizontal", "fill": "#fbe94f", "stroke": "black", "strokeWidth": 1.1},
      "encoding": {
       "y": {"field": "y", "type": "quantitative", "scale": {"domain": [-0.305, 0.42], "nice": false, "zero": false}, "axis": {"values": [-0.2,0,0.2,0.4], "tickCount": 100, "labelExpr": "format(datum.value,'~g')", "tickSize": -4, "labelPadding": 11, "minExtent": 32, "maxExtent": 32, "title": "Correlation", "titlePadding": 0, "labelOverlap": false}},
       "x": {"field": "vx", "type": "quantitative", "scale": {"domain": [0, 10], "nice": false, "zero": false}, "axis": {"values": [1.63, 1.7, 4.37, 9.03], "tickCount": 100, "labelExpr": "datum.value==1.63?'ISC':datum.value==1.7?'EEG':datum.value==4.37?'vs. ISC':'HR'", "ticks": false, "title": null, "labelOverlap": false, "labelBaseline": "top", "labelAlign": {"condition": {"test": "datum.value==1.63", "value": "right"}, "value": "left"}, "labelFontSize": {"condition": {"test": "datum.value==1.7||datum.value==9.03", "value": 10}, "value": 13}, "labelPadding": {"condition": {"test": "datum.value==1.7||datum.value==9.03", "value": 12}, "value": 3}}},
       "x2": {"datum": 5.0}}},
     {"data": {"values": [{}]}, "mark": {"type": "rule", "color": "#7a8288", "strokeDash": [5, 4], "strokeWidth": 1.1},
      "encoding": {"x": {"datum": 5.0, "type": "quantitative"}, "x2": {"datum": 10}, "y": {"datum": 0, "type": "quantitative"}}},
     {"data": {"values": [{}]}, "mark": {"type": "rule", "color": "black", "strokeWidth": 1.2},
      "encoding": {"x": {"datum": 5.0, "type": "quantitative"}, "y": {"datum": -0.305, "type": "quantitative"}, "y2": {"datum": 0.42}}},
     {"data": {"name": "box1"}, "mark": {"type": "rule", "color": "black", "strokeWidth": 1.2},
      "encoding": {"x": {"datum": 3.95, "type": "quantitative"}, "y": {"field": "lo", "type": "quantitative"}, "y2": {"field": "hi"}}},
     {"data": {"name": "box1"}, "mark": {"type": "rect", "fill": "#f2c21b", "stroke": "black", "strokeWidth": 1},
      "encoding": {"x": {"datum": 3.53, "type": "quantitative"}, "x2": {"datum": 4.37}, "y": {"field": "q1", "type": "quantitative"}, "y2": {"field": "q3"}}},
     {"data": {"name": "box1"}, "mark": {"type": "rule", "color": "black", "strokeWidth": 1.1},
      "encoding": {"x": {"datum": 3.53, "type": "quantitative"}, "x2": {"datum": 4.37}, "y": {"field": "med", "type": "quantitative"}}},
     {"data": {"name": "sc1"}, "mark": {"type": "point", "filled": true, "size": 16, "fill": "#e8d44d", "stroke": "#5e5520", "strokeWidth": 0.6, "opacity": 1},
      "encoding": {"x": {"field": "x", "type": "quantitative"}, "y": {"field": "y", "type": "quantitative"}}},
     {"data": {"values": [{}]}, "mark": {"type": "text", "text": "**", "fontSize": 16, "baseline": "middle", "align": "center", "color": "#111111"},
      "encoding": {"x": {"datum": 2.7, "type": "quantitative"}, "y": {"datum": 0.365, "type": "quantitative"}}},
     {"data": {"values": [{}]}, "mark": {"type": "rule", "color": "#262626", "strokeWidth": 1}, "encoding": {"x": {"datum": 0, "type": "quantitative"}, "y": {"datum": -0.305, "type": "quantitative"}, "y2": {"datum": 0.42}}},
     {"data": {"values": [{}]}, "mark": {"type": "rule", "color": "#262626", "strokeWidth": 1}, "encoding": {"x": {"datum": 10, "type": "quantitative"}, "y": {"datum": -0.305, "type": "quantitative"}, "y2": {"datum": 0.42}}},
     {"data": {"values": [{}]}, "mark": {"type": "rule", "color": "#262626", "strokeWidth": 1}, "encoding": {"x": {"datum": 0, "type": "quantitative"}, "x2": {"datum": 10}, "y": {"datum": -0.305, "type": "quantitative"}}},
     {"data": {"values": [{}]}, "mark": {"type": "rule", "color": "#262626", "strokeWidth": 1}, "encoding": {"x": {"datum": 0, "type": "quantitative"}, "x2": {"datum": 10}, "y": {"datum": 0.42, "type": "quantitative"}}}
    ]},
   {"width": 96, "height": 105,
    "layer": [
     {"data": {"name": "vio2"}, "mark": {"type": "area", "orient": "horizontal", "fill": "#6b6cf3", "stroke": "black", "strokeWidth": 1.1},
      "encoding": {
       "y": {"field": "y", "type": "quantitative", "scale": {"domain": [-0.148, 0.64], "nice": false, "zero": false}, "axis": {"values": [0,0.2,0.4,0.6], "tickCount": 100, "labelExpr": "format(datum.value,'~g')", "tickSize": -4, "labelPadding": 10, "title": null, "labelOverlap": false}},
       "x": {"field": "vx", "type": "quantitative", "scale": {"domain": [0, 10], "nice": false, "zero": false}, "axis": {"values": [0.73, 0.8, 3.33, 7.95], "tickCount": 100, "labelExpr": "datum.value==0.73?'ISC':datum.value==0.8?'EEG':datum.value==3.33?'vs. ISC':'Gaze'", "ticks": false, "title": null, "labelOverlap": false, "labelBaseline": "top", "labelAlign": {"condition": {"test": "datum.value==0.73", "value": "right"}, "value": "left"}, "labelFontSize": {"condition": {"test": "datum.value==0.8||datum.value==7.95", "value": 10}, "value": 13}, "labelPadding": {"condition": {"test": "datum.value==0.8||datum.value==7.95", "value": 12}, "value": 3}}},
       "x2": {"datum": 4.6}}},
     {"data": {"values": [{}]}, "mark": {"type": "rule", "color": "#7a8288", "strokeDash": [5, 4], "strokeWidth": 1.1},
      "encoding": {"x": {"datum": 4.6, "type": "quantitative"}, "x2": {"datum": 10}, "y": {"datum": 0, "type": "quantitative"}}},
     {"data": {"values": [{}]}, "mark": {"type": "rule", "color": "black", "strokeWidth": 1.2},
      "encoding": {"x": {"datum": 4.6, "type": "quantitative"}, "y": {"datum": -0.148, "type": "quantitative"}, "y2": {"datum": 0.64}}},
     {"data": {"name": "box2"}, "mark": {"type": "rule", "color": "black", "strokeWidth": 1.2},
      "encoding": {"x": {"datum": 3.52, "type": "quantitative"}, "y": {"field": "lo", "type": "quantitative"}, "y2": {"field": "hi"}}},
     {"data": {"name": "box2"}, "mark": {"type": "rect", "fill": "#2d5ceb", "stroke": "black", "strokeWidth": 1},
      "encoding": {"x": {"datum": 3.1, "type": "quantitative"}, "x2": {"datum": 3.94}, "y": {"field": "q1", "type": "quantitative"}, "y2": {"field": "q3"}}},
     {"data": {"name": "box2"}, "mark": {"type": "rule", "color": "black", "strokeWidth": 1.1},
      "encoding": {"x": {"datum": 3.1, "type": "quantitative"}, "x2": {"datum": 3.94}, "y": {"field": "med", "type": "quantitative"}}},
     {"data": {"name": "sc2"}, "mark": {"type": "point", "filled": true, "size": 16, "fill": "#3044b8", "stroke": "#141d55", "strokeWidth": 0.6, "opacity": 1},
      "encoding": {"x": {"field": "x", "type": "quantitative"}, "y": {"field": "y", "type": "quantitative"}}},
     {"data": {"values": [{}]}, "mark": {"type": "text", "text": "**", "fontSize": 16, "baseline": "middle", "align": "center", "color": "#111111"},
      "encoding": {"x": {"datum": 2.3, "type": "quantitative"}, "y": {"datum": 0.58, "type": "quantitative"}}},
     {"data": {"values": [{}]}, "mark": {"type": "rule", "color": "#262626", "strokeWidth": 1}, "encoding": {"x": {"datum": 0, "type": "quantitative"}, "y": {"datum": -0.148, "type": "quantitative"}, "y2": {"datum": 0.64}}},
     {"data": {"values": [{}]}, "mark": {"type": "rule", "color": "#262626", "strokeWidth": 1}, "encoding": {"x": {"datum": 10, "type": "quantitative"}, "y": {"datum": -0.148, "type": "quantitative"}, "y2": {"datum": 0.64}}},
     {"data": {"values": [{}]}, "mark": {"type": "rule", "color": "#262626", "strokeWidth": 1}, "encoding": {"x": {"datum": 0, "type": "quantitative"}, "x2": {"datum": 10}, "y": {"datum": -0.148, "type": "quantitative"}}},
     {"data": {"values": [{}]}, "mark": {"type": "rule", "color": "#262626", "strokeWidth": 1}, "encoding": {"x": {"datum": 0, "type": "quantitative"}, "x2": {"datum": 10}, "y": {"datum": 0.64, "type": "quantitative"}}}
    ]},
   {"width": 96, "height": 105,
    "layer": [
     {"data": {"name": "vio3"}, "mark": {"type": "area", "orient": "horizontal", "fill": "#f6628e", "stroke": "black", "strokeWidth": 1.1},
      "encoding": {
       "y": {"field": "y", "type": "quantitative", "scale": {"domain": [-0.205, 0.44], "nice": false, "zero": false}, "axis": {"values": [-0.2,0,0.2,0.4], "tickCount": 100, "labelExpr": "replace(format(datum.value,'~g'),'−','-')", "tickSize": -4, "labelPadding": 9, "title": null, "labelOverlap": false}},
       "x": {"field": "vx", "type": "quantitative", "scale": {"domain": [0, 10], "nice": false, "zero": false}, "axis": {"values": [1.35, 1.43, 3.85, 8.47], "tickCount": 100, "labelExpr": "datum.value==1.35?'ISC':datum.value==1.43?'EEG':datum.value==3.85?'vs. ISC':'Pupil'", "ticks": false, "title": null, "labelOverlap": false, "labelBaseline": "top", "labelAlign": {"condition": {"test": "datum.value==1.35", "value": "right"}, "value": "left"}, "labelFontSize": {"condition": {"test": "datum.value==1.43||datum.value==8.47", "value": 10}, "value": 13}, "labelPadding": {"condition": {"test": "datum.value==1.43||datum.value==8.47", "value": 12}, "value": 3}}},
       "x2": {"datum": 5.05}}},
     {"data": {"values": [{}]}, "mark": {"type": "rule", "color": "#7a8288", "strokeDash": [5, 4], "strokeWidth": 1.1},
      "encoding": {"x": {"datum": 5.05, "type": "quantitative"}, "x2": {"datum": 10}, "y": {"datum": 0, "type": "quantitative"}}},
     {"data": {"values": [{}]}, "mark": {"type": "rule", "color": "black", "strokeWidth": 1.2},
      "encoding": {"x": {"datum": 5.05, "type": "quantitative"}, "y": {"datum": -0.205, "type": "quantitative"}, "y2": {"datum": 0.44}}},
     {"data": {"name": "box3"}, "mark": {"type": "rule", "color": "black", "strokeWidth": 1.2},
      "encoding": {"x": {"datum": 3.98, "type": "quantitative"}, "y": {"field": "lo", "type": "quantitative"}, "y2": {"field": "hi"}}},
     {"data": {"name": "box3"}, "mark": {"type": "rect", "fill": "#f0160f", "stroke": "black", "strokeWidth": 1},
      "encoding": {"x": {"datum": 3.6, "type": "quantitative"}, "x2": {"datum": 4.36}, "y": {"field": "q1", "type": "quantitative"}, "y2": {"field": "q3"}}},
     {"data": {"name": "box3"}, "mark": {"type": "rule", "color": "black", "strokeWidth": 1.1},
      "encoding": {"x": {"datum": 3.6, "type": "quantitative"}, "x2": {"datum": 4.36}, "y": {"field": "med", "type": "quantitative"}}},
     {"data": {"name": "sc3"}, "mark": {"type": "point", "filled": true, "size": 16, "fill": "#b3171c", "stroke": "#4e0909", "strokeWidth": 0.6, "opacity": 1},
      "encoding": {"x": {"field": "x", "type": "quantitative"}, "y": {"field": "y", "type": "quantitative"}}},
     {"data": {"values": [{}]}, "mark": {"type": "text", "text": "**", "fontSize": 16, "baseline": "middle", "align": "center", "color": "#111111"},
      "encoding": {"x": {"datum": 2.66, "type": "quantitative"}, "y": {"datum": 0.38, "type": "quantitative"}}},
     {"data": {"values": [{}]}, "mark": {"type": "rule", "color": "#262626", "strokeWidth": 1}, "encoding": {"x": {"datum": 0, "type": "quantitative"}, "y": {"datum": -0.205, "type": "quantitative"}, "y2": {"datum": 0.44}}},
     {"data": {"values": [{}]}, "mark": {"type": "rule", "color": "#262626", "strokeWidth": 1}, "encoding": {"x": {"datum": 10, "type": "quantitative"}, "y": {"datum": -0.205, "type": "quantitative"}, "y2": {"datum": 0.44}}},
     {"data": {"values": [{}]}, "mark": {"type": "rule", "color": "#262626", "strokeWidth": 1}, "encoding": {"x": {"datum": 0, "type": "quantitative"}, "x2": {"datum": 10}, "y": {"datum": -0.205, "type": "quantitative"}}},
     {"data": {"values": [{}]}, "mark": {"type": "rule", "color": "#262626", "strokeWidth": 1}, "encoding": {"x": {"datum": 0, "type": "quantitative"}, "x2": {"datum": 10}, "y": {"datum": 0.44, "type": "quantitative"}}}
    ]},
   {"width": 96, "height": 105,
    "layer": [
     {"data": {"name": "vio4"}, "mark": {"type": "area", "orient": "horizontal", "fill": "#d47ef5", "stroke": "black", "strokeWidth": 1.1},
      "encoding": {
       "y": {"field": "y", "type": "quantitative", "scale": {"domain": [-0.52, 0.52], "nice": false, "zero": false}, "axis": {"values": [-0.5,0,0.5], "tickCount": 100, "labelExpr": "replace(format(datum.value,'~g'),'−','-')", "tickSize": -4, "labelPadding": 8, "title": null, "labelOverlap": false}},
       "x": {"field": "vx", "type": "quantitative", "scale": {"domain": [0, 10], "nice": false, "zero": false}, "axis": {"values": [0.86, 0.97, 3.47, 8.2], "tickCount": 100, "labelExpr": "datum.value==0.86?'ISC':datum.value==0.97?'EEG':datum.value==3.47?'vs. ISC':'Resp'", "ticks": false, "title": null, "labelOverlap": false, "labelBaseline": "top", "labelAlign": {"condition": {"test": "datum.value==0.86", "value": "right"}, "value": "left"}, "labelFontSize": {"condition": {"test": "datum.value==0.97||datum.value==8.2", "value": 10}, "value": 13}, "labelPadding": {"condition": {"test": "datum.value==0.97||datum.value==8.2", "value": 12}, "value": 3}}},
       "x2": {"datum": 5.05}}},
     {"data": {"values": [{}]}, "mark": {"type": "rule", "color": "#7a8288", "strokeDash": [5, 4], "strokeWidth": 1.1},
      "encoding": {"x": {"datum": 0, "type": "quantitative"}, "x2": {"datum": 10}, "y": {"datum": 0, "type": "quantitative"}}},
     {"data": {"values": [{}]}, "mark": {"type": "rule", "color": "black", "strokeWidth": 1.2},
      "encoding": {"x": {"datum": 5.05, "type": "quantitative"}, "y": {"datum": -0.52, "type": "quantitative"}, "y2": {"datum": 0.52}}},
     {"data": {"name": "box4"}, "mark": {"type": "rule", "color": "black", "strokeWidth": 1.2},
      "encoding": {"x": {"datum": 3.88, "type": "quantitative"}, "y": {"field": "lo", "type": "quantitative"}, "y2": {"field": "hi"}}},
     {"data": {"name": "box4"}, "mark": {"type": "rect", "fill": "#b14be6", "stroke": "black", "strokeWidth": 1},
      "encoding": {"x": {"datum": 3.5, "type": "quantitative"}, "x2": {"datum": 4.26}, "y": {"field": "q1", "type": "quantitative"}, "y2": {"field": "q3"}}},
     {"data": {"name": "box4"}, "mark": {"type": "rule", "color": "black", "strokeWidth": 1.1},
      "encoding": {"x": {"datum": 3.5, "type": "quantitative"}, "x2": {"datum": 4.26}, "y": {"field": "med", "type": "quantitative"}}},
     {"data": {"name": "sc4"}, "mark": {"type": "point", "filled": true, "size": 16, "fill": "#9b55cc", "stroke": "#3e1f57", "strokeWidth": 0.6, "opacity": 1},
      "encoding": {"x": {"field": "x", "type": "quantitative"}, "y": {"field": "y", "type": "quantitative"}}},
     {"data": {"values": [{}]}, "mark": {"type": "rule", "color": "#262626", "strokeWidth": 1}, "encoding": {"x": {"datum": 0, "type": "quantitative"}, "y": {"datum": -0.52, "type": "quantitative"}, "y2": {"datum": 0.52}}},
     {"data": {"values": [{}]}, "mark": {"type": "rule", "color": "#262626", "strokeWidth": 1}, "encoding": {"x": {"datum": 10, "type": "quantitative"}, "y": {"datum": -0.52, "type": "quantitative"}, "y2": {"datum": 0.52}}},
     {"data": {"values": [{}]}, "mark": {"type": "rule", "color": "#262626", "strokeWidth": 1}, "encoding": {"x": {"datum": 0, "type": "quantitative"}, "x2": {"datum": 10}, "y": {"datum": -0.52, "type": "quantitative"}}},
     {"data": {"values": [{}]}, "mark": {"type": "rule", "color": "#262626", "strokeWidth": 1}, "encoding": {"x": {"datum": 0, "type": "quantitative"}, "x2": {"datum": 10}, "y": {"datum": 0.52, "type": "quantitative"}}}
    ]}
  ]}
]
}
